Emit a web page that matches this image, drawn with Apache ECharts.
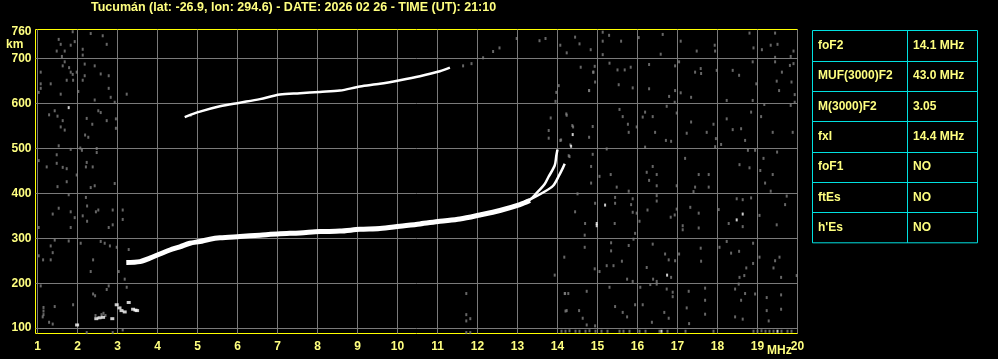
<!DOCTYPE html>
<html><head><meta charset="utf-8">
<script src="https://cdn.jsdelivr.net/npm/echarts@6/dist/echarts.min.js"></script>
<style>html,body{margin:0;padding:0;background:#000;}#c{width:998px;height:359px;}</style>
</head><body><div id="c"></div>
<script>
const titleText = 'Tucumán (lat: -26.9, lon: 294.6) - DATE: 2026 02 26 - TIME (UT): 21:10';
const xTicks = [1,2,3,4,5,6,7,8,9,10,11,12,13,14,15,16,17,18,19,20];
const yTicks = [100,200,300,400,500,600,700];
const yLabels = [100,200,300,400,500,600,700,760];
const tableLabels = ['foF2','MUF(3000)F2','M(3000)F2','fxI','foF1','ftEs',"h'Es"];
const tableValues = ['14.1 MHz','43.0 MHz','3.05','14.4 MHz','NO','NO','NO'];

// main F-layer trace (1-hop)
const mainF = [3.22,3.56,3.81,4.06,4.31,4.56,4.81,5.06,5.31,5.56,6.06,6.56,7.06,7.56,8.06,8.56,9.06,9.56,10.06,10.56,11.06,11.56,12.06,12.56,13.06,13.31];
const mainH = [246,248,256,265,274,281,289,293,298,301,304,307,310,312,315,316,320,322,327,332,338,343,352,362,375,384];
// ordinary branch near critical frequency
const oF = [13.06,13.31,13.47,13.68,13.77,13.93,13.97,14.0];
const oH = [375,386,400,421,436,462,484,498];
// extraordinary branch
const xF = [13.1,13.39,13.64,13.89,14.04,14.14,14.18];
const xH = [378,390,402,417,440,458,466];
// 2-hop trace
const upF = [4.68,5.06,5.56,6.06,6.56,7.06,7.56,8.06,8.56,9.06,9.56,10.06,10.56,11.06,11.31];
const upH = [570,582,594,602,610,620,623,626,629,638,644,652,661,672,680];
const upFaint = [[11.64,684],[11.85,689],[12.14,702],[12.39,716],[12.55,724]];
// low echoes
const lowEchoes = [[1.99,107],[2.47,121],[2.55,123],[2.64,124],[2.87,121],[2.98,152],[3.05,145],[3.1,139],[3.18,136],[3.28,157],[3.39,142],[3.45,140],[3.49,139]];
// scattered noise (grey)
const noiseLeft = [[1.53,743],[1.58,732],[1.83,730],[1.93,738],[1.88,760],[2.33,756],[2.63,751],[2.13,721],[1.48,717],[1.68,717],[2.13,708],[2.73,732],[1.61,705],[1.68,693],[1.63,684],[1.79,680],[1.83,670],[1.88,665],[1.98,670],[2.18,688],[2.43,684],[2.58,666],[2.78,662],[2.18,662],[2.13,652],[1.73,652],[1.89,652],[1.08,670],[1.08,644],[1.33,644],[1.08,634],[1.03,625],[1.58,621],[2.02,627],[2.78,634],[2.83,614],[2.93,603],[3.23,621],[2.43,608],[1.43,584],[1.29,575],[1.5,572],[1.63,562],[1.58,548],[1.68,541],[2.23,567],[2.37,554],[2.52,584],[2.58,580],[2.73,562],[2.96,566],[2.96,545],[2.19,530],[2.27,525],[1.53,506],[1.83,498],[2.07,501],[2.11,496],[2.48,500],[2.48,491],[1.48,486],[1.03,473],[1.23,459],[1.48,467],[1.63,458],[1.73,455],[2.23,469],[2.21,459],[2.38,459],[1.98,441],[1.73,426],[1.5,415],[2.33,413],[2.43,417],[2.93,422],[1.78,397],[2.21,391],[2.24,372],[1.53,367],[1.83,359],[1.93,346],[2.13,350],[1.38,354],[2.46,359],[2.52,363],[2.88,363],[3.13,363],[2.24,338],[3.13,342],[2.88,330],[2.78,324],[1.83,324],[1.03,324],[1.43,296],[1.78,294],[2.08,289],[2.58,293],[2.68,289],[2.81,283],[2.98,280],[1.33,283],[1.38,268],[1.14,252],[1.33,252],[1.03,261],[2.39,252],[2.33,226],[3.03,226],[3.28,275],[3.18,209],[3.23,191],[2.78,194],[2.73,186],[1.08,194],[2.39,176],[2.44,172],[1.89,152],[1.43,148],[1.15,146],[1.15,138],[1.15,130],[1.13,125],[1.29,113],[1.38,109],[2.23,90],[2.65,133],[2.88,90],[3.13,96],[2.45,128],[2.6,130],[2.7,128],[4.83,574]];
const noiseRight = [[14.44,748],[15.13,759],[15.29,752],[15.13,739],[14.55,733],[14.07,730],[14.23,713],[14.83,720],[15.13,709],[15.59,739],[16.03,747],[16.63,754],[16.58,710],[17.08,739],[17.48,717],[17.93,730],[17.94,717],[18.8,757],[18.9,724],[19.11,720],[19.33,730],[19.5,732],[19.44,757],[19.9,717],[19.83,705],[19.9,689],[19.44,703],
[14.58,681],[14.93,683],[14.9,670],[15.3,690],[15.5,675],[15.68,675],[15.83,681],[16.29,687],[16.94,684],[17.04,693],[17.44,670],[17.58,678],[17.59,667],[17.98,674],[18.38,674],[18.54,663],[18.88,693],[19.44,693],[19.61,670],[19.81,685],[19.85,648],[19.93,620],
[14.94,648],[14.79,629],[15.53,642],[15.88,635],[16.29,633],[16.94,629],[17.08,624],[16.79,616],[16.93,603],[17.34,614],[18.23,607],[18.88,607],[18.97,644],[19.48,650],[19.54,629],[19.17,598],[19.83,596],[19.93,603],
[14.23,574],[15.55,587],[15.63,571],[16.13,570],[16.19,581],[16.38,571],[15.76,554],[15.98,548],[16.73,594],[16.98,579],[17.34,559],[17.9,554],[18.23,566],[18.38,542],[18.59,544],[18.84,581],[19.09,571],[14.39,548],[14.88,549],[14.79,525],[14.09,519],[15.23,499],[15.78,536],[16.44,536],[16.71,518],[16.84,516],[17.23,534],[17.73,536],[17.96,522],[18.09,509],[18.69,518],[19.38,536],[19.88,536],
[16.19,503],[17.94,504],[18.76,496],[18.94,496],[19.49,492],[19.15,478],[17.19,478],[16.38,460],[16.23,447],[16.48,442],[16.29,429],[16.48,417],[16.98,417],[17.44,414],[17.4,404],[17.78,414],[17.78,442],[17.53,442],[18.55,464],[18.8,457],[19.07,451],[19.38,442],[19.19,423],[19.33,405],[15.33,442],[15.05,438],[15.48,414],[14.84,460],[14.88,487],[14.3,482],[14.84,423],[15.78,405],
[14.5,399],[14.94,378],[15.44,391],[15.44,378],[15.88,388],[15.84,375],[14.44,359],[14.69,333],[14.68,307],[15.43,333],[15.88,358],[15.98,356],[16.05,338],[15.94,311],[15.9,298],[16.25,363],[16.48,395],[16.48,383],[16.98,365],[16.93,352],[16.83,347],[17.13,328],[17.13,319],[17.32,369],[17.53,356],[17.53,323],[18.03,364],[18.28,333],[18.48,388],[18.63,386],[18.84,390],[19.05,351],[19.48,330],[19.73,394],[19.69,375],[18.63,326],
[14.17,258],[14.68,280],[14.93,232],[15.05,226],[15.23,239],[15.34,290],[15.34,272],[15.4,239],[15.61,249],[15.78,284],[15.74,209],[15.88,204],[16.23,235],[16.39,209],[16.48,204],[16.38,287],[16.69,265],[16.78,252],[16.94,250],[16.84,213],[17.04,265],[17.59,249],[17.58,278],[18.05,280],[18.23,293],[18.34,267],[18.54,271],[18.89,289],[18.89,244],[18.72,234],[18.67,217],[18.55,213],[19.05,258],[19.44,250],[19.55,258],[19.4,234],[19.59,213],[19.98,217],
[14.19,177],[14.27,177],[14.23,139],[14.73,182],[14.54,139],[14.63,122],[14.73,107],[14.94,105],[15.3,191],[15.44,148],[15.63,135],[15.74,125],[16.07,191],[15.94,152],[16.13,152],[16.36,113],[16.32,197],[16.48,198],[16.73,187],[16.88,180],[16.88,170],[16.67,135],[16.78,122],[17.28,182],[17.29,110],[17.23,145],[17.69,189],[17.69,162],[17.69,131],[18.44,187],[18.53,198],[18.69,177],[18.59,162],[18.44,125],[18.63,120],[18.94,176],[19.23,168],[19.23,139],[19.59,174],[19.59,142],[19.28,116],
[14.1,93],[14.2,93],[14.3,94],[14.45,93],[14.55,93],[14.7,93],[14.8,94],[14.95,93],[15.1,93],[15.25,93],[15.55,93],[15.65,93],[15.8,93],[16.05,93],[16.2,93],[16.55,93],[16.75,93],[17.2,93],[17.9,93],[18.9,93],[19.0,93],[19.1,94],[19.2,93],[19.3,93],[19.4,93],[19.6,93],[19.75,93],[19.85,93],
[12.98,745],[13.7,745],[13.55,740],[14.22,577],[14.37,551],[14.32,508],[13.83,568],[13.78,540],[13.78,523],[14.07,518],[14.28,484],[13.97,625],[14.03,640],[13.95,605],[14.89,670],[14.79,629],
[11.72,177],[11.72,130],[11.82,121],[11.72,116],[11.72,90],[11.82,90],[13.93,218],[14.18,177],[14.2,138]];
// isolated bright dots
const whiteDots = [[1.78,591],[14.38,531],[14.34,505],[15.19,374],[14.98,333],[14.98,328],[18.48,341],[18.63,354],[16.74,218],[16.6,93],[19.5,93]];

const pair = (fs, hs) => fs.map((f, i) => [f, hs[i]]);
const YEL = '#ffff80';
const FONT = '"Liberation Sans", Arial, sans-serif';
const chart = echarts.init(document.getElementById('c'));

const rowH = 30.33, tX = 812.5, tY = 30.5, tW = 165, cX = 907.5;
const graphics = [
  {type:'text', left:91, top:1, style:{text:titleText, fill:YEL, font:'bold 12.5px ' + FONT}},
  {type:'text', left:6, top:39, style:{text:'km', fill:YEL, font:'bold 12px ' + FONT}},
  {type:'text', left:767, top:345, style:{text:'MHz', fill:YEL, font:'bold 12px ' + FONT}},
  {type:'rect', shape:{x:tX, y:tY, width:tW, height:rowH*tableLabels.length}, style:{fill:'none', stroke:'#00e0e0', lineWidth:1}},
  {type:'line', shape:{x1:cX, y1:tY, x2:cX, y2:tY+rowH*tableLabels.length}, style:{stroke:'#00e0e0', lineWidth:1}}
];
tableLabels.forEach((lab, i) => {
  const y = tY + rowH * i;
  if (i > 0) graphics.push({type:'line', shape:{x1:tX, y1:Math.round(y)+0.5, x2:tX+tW, y2:Math.round(y)+0.5}, style:{stroke:'#00e0e0', lineWidth:1}});
  graphics.push({type:'text', x:818, y:y+rowH/2, style:{text:lab, fill:YEL, font:'bold 12px ' + FONT, verticalAlign:'middle'}});
  graphics.push({type:'text', x:913, y:y+rowH/2, style:{text:tableValues[i], fill:YEL, font:'bold 12px ' + FONT, verticalAlign:'middle'}});
});

chart.setOption({
  backgroundColor:'#000',
  animation:false,
  grid:{left:35.5, right:200.5, top:29.5, bottom:25.5, show:true, borderColor:'#ffff00', borderWidth:1, backgroundColor:'transparent'},
  xAxis:{type:'value', min:0.95, max:20,
    axisLine:{show:false},
    axisTick:{show:false, customValues:xTicks},
    splitLine:{show:true, lineStyle:{color:'#7a7a7a', width:1}},
    axisLabel:{customValues:xTicks, color:YEL, fontWeight:'bold', fontSize:12, fontFamily:FONT, margin:7}
  },
  yAxis:{type:'value', min:88, max:765,
    axisLine:{show:false},
    axisTick:{show:false, customValues:yTicks},
    splitLine:{show:true, lineStyle:{color:'#7a7a7a', width:1}},
    axisLabel:{customValues:yLabels, color:YEL, fontWeight:'bold', fontSize:12, fontFamily:FONT, margin:4}
  },
  graphic:graphics,
  series:[
    {type:'scatter', data:noiseLeft.concat(noiseRight).concat(upFaint), symbol:'rect', symbolSize:[2,3], itemStyle:{color:'#808080'}, silent:true},
    {type:'scatter', data:whiteDots, symbol:'rect', symbolSize:[2,3], itemStyle:{color:'#ffffff'}, silent:true},
    {type:'scatter', data:lowEchoes, symbol:'rect', symbolSize:[4,3], itemStyle:{color:'#ffffff'}, silent:true},
    {type:'line', data:pair(mainF, mainH), smooth:0.3, showSymbol:false, lineStyle:{color:'#ffffff', width:5}, silent:true},
    {type:'line', data:pair(oF, oH), smooth:0.3, showSymbol:false, lineStyle:{color:'#ffffff', width:2.5}, silent:true},
    {type:'line', data:pair(xF, xH), smooth:0.3, showSymbol:false, lineStyle:{color:'#ffffff', width:2.5}, silent:true},
    {type:'line', data:pair(upF, upH), smooth:0.3, showSymbol:false, lineStyle:{color:'#ffffff', width:2.5}, silent:true}
  ]
});
</script></body></html>
